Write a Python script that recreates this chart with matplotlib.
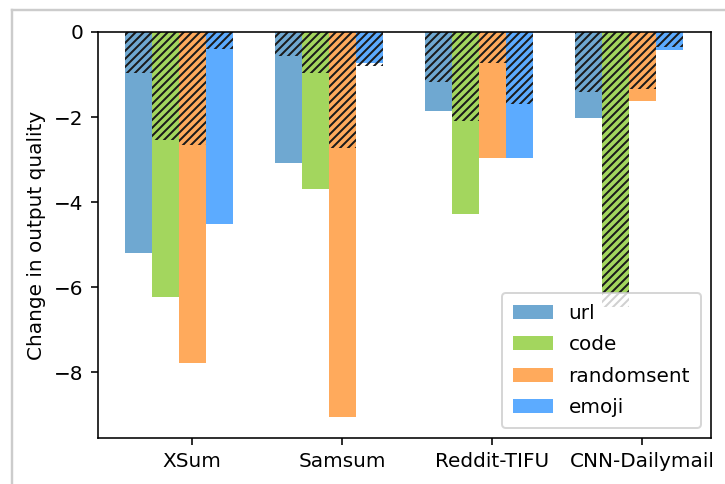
import numpy as np
import matplotlib
matplotlib.use("Agg")
import matplotlib.pyplot as plt
from matplotlib.lines import Line2D

datasets = ["XSum", "Samsum", "Reddit-TIFU", "CNN-Dailymail"]
attacks = ["url", "code", "randomsent", "emoji"]
colors = ["#6fa8d1", "#a3d65e", "#ffaa5c", "#5cabff"]

# total change (solid bars)
url_total = [-5.19, -3.08, -1.85, -2.02]
code_total = [-6.24, -3.70, -4.28, -6.13]
randomsent_total = [-7.79, -9.06, -2.96, -1.62]
emoji_total = [-4.51, -0.74, -2.96, -0.43]

# hatched part
url_part = [-0.97, -0.56, -1.18, -1.41]
code_part = [-2.54, -0.97, -2.09, -6.48]
randomsent_part = [-2.66, -2.73, -0.73, -1.34]
emoji_part = [-0.40, -0.80, -1.69, -0.35]

totals = [url_total, code_total, randomsent_total, emoji_total]
parts = [url_part, code_part, randomsent_part, emoji_part]

fig = plt.figure(figsize=(725 / 144, 484 / 144), dpi=144)
ax = fig.add_axes([0.1345, 0.095, 0.9807 - 0.1345, 0.9339 - 0.095])

x = np.arange(len(datasets))
w = 0.18
for i, name in enumerate(attacks):
    ax.bar(x + (i - 2) * w, totals[i], w, color=colors[i], label=name)
for i, name in enumerate(attacks):
    ax.bar(x + (i - 2) * w, parts[i], w, facecolor="none", edgecolor="#1a1a1a",
           linewidth=0, hatch="//////")

ax.set_xticks(x)
ax.set_xticklabels(datasets)
ax.set_ylabel("Change in output quality")
ax.set_ylim(-9.55, 0)
ax.set_xlim(-0.63, 3.46)
ax.legend(loc="lower right", labelspacing=0.62, borderpad=0.55)

# screenshot frame
fig.add_artist(Line2D([12 / 725, 12 / 725], [0, 1 - 10 / 484], color="#cccccc", lw=1.2))
fig.add_artist(Line2D([12 / 725, 1], [1 - 10 / 484, 1 - 10 / 484], color="#cccccc", lw=1.2))

fig.savefig("out.png", dpi=144)
